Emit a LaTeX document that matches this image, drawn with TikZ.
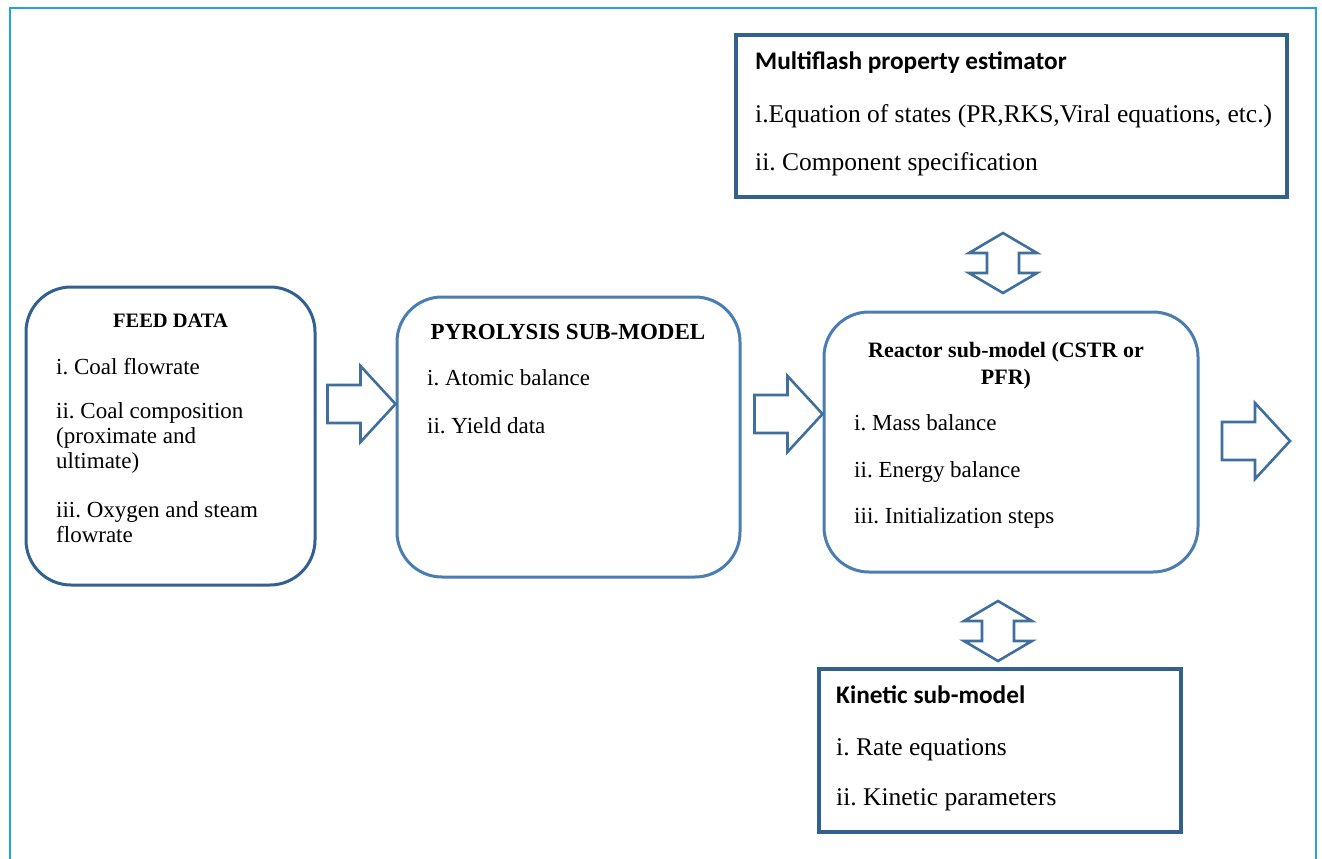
\documentclass[tikz,border=0pt]{standalone}
\usepackage{fontspec}
\setmainfont{Liberation Serif}
\newfontfamily\calibri{Carlito}
\usetikzlibrary{calc}

\definecolor{framecol}{HTML}{1EA5DF}
\definecolor{darkline}{HTML}{32608F}
\definecolor{midline}{HTML}{4A7DB0}
\definecolor{arrowcol}{HTML}{3F6F9E}

\newcommand{\itemsize}{\fontsize{23}{25}\selectfont}
\newcommand{\bigitemsize}{\fontsize{25.5}{28}\selectfont}
\newcommand{\titlesize}{\fontsize{22}{27}\selectfont\bfseries}

\tikzset{
	roundbox/.style={draw=midline, line width=3, rounded corners=45, fill=white},
	plainbox/.style={draw=darkline, line width=3.2, fill=white},
	entry/.style={anchor=base west, inner sep=0, font=\itemsize},
	bigentry/.style={entry, font=\bigitemsize},
	heading/.style={anchor=base, inner sep=0, font=\titlesize},
	sansheading/.style={anchor=base west, inner sep=0, font=\calibri\fontsize{25.3}{29}\selectfont\bfseries},
	arrowline/.style={draw=arrowcol, line width=2.6, fill=white, line join=miter},
	pics/fatarrow/.style={code={
		\draw[arrowline] (0,0) -- (-35,-38) -- (-35,-19) -- (-68,-19) -- (-68,19) -- (-35,19) -- (-35,38) -- cycle;
	}},
	pics/updown/.style={code={
		\draw[arrowline] (0,-30) -- (34,-10) -- (16,-10) -- (16,10) -- (34,10) -- (0,30) -- (-34,10) -- (-16,10) -- (-16,-10) -- (-34,-10) -- cycle;
	}}
}

\begin{document}
\frenchspacing
\begin{tikzpicture}[x=1pt,y=-1pt]
	\useasboundingbox (0,0) rectangle (1322,859);
	%The outer frame, open at the bottom
	\draw[framecol, line width=2] (10,870) -- (10,8) -- (1316,8) -- (1316,870);

	%The boxes
	\node[roundbox, draw=darkline, minimum width=289, minimum height=298] (feed) at (170.5,436) {};
	\node[roundbox, minimum width=343, minimum height=280] (pyro) at (568.5,437) {};
	\node[roundbox, minimum width=374, minimum height=260] (reactor) at (1011,442) {};
	\node[plainbox, minimum width=551, minimum height=162] (multi) at (1011.5,116) {};
	\node[plainbox, minimum width=362, minimum height=163] (kinetic) at (1000,750.5) {};

	%Feed data
	\node[heading, font=\fontsize{20.5}{24}\selectfont\bfseries] (feedtitle) at (170.5,327) {FEED DATA};
	\node[entry] (feed1) at (56,374) {i. Coal flowrate};
	\node[entry] (feed2) at (56,418) {ii. Coal composition};
	\node[entry] (feed2b) at (56,443) {(proximate and};
	\node[entry] (feed2c) at (56,468) {ultimate)};
	\node[entry] (feed3) at (56,517) {iii. Oxygen and steam};
	\node[entry] (feed3b) at (56,542) {flowrate};

	%Pyrolysis sub-model
	\node[heading, font=\fontsize{23}{27}\selectfont\bfseries] (pyrotitle) at (568,339) {PYROLYSIS SUB-MODEL};
	\node[entry] (pyro1) at (427,385) {i. Atomic balance};
	\node[entry] (pyro2) at (427,433) {ii. Yield data};

	%Reactor sub-model
	\node[heading] (reacttitle) at (1006,357) {Reactor sub-model (CSTR or};
	\node[heading] (reacttitleb) at (1006,384) {PFR)};
	\node[entry] (react1) at (854,430) {i. Mass balance};
	\node[entry] (react2) at (854,477) {ii. Energy balance};
	\node[entry] (react3) at (854,523) {iii. Initialization steps};

	%Multiflash property estimator
	\node[sansheading] (multititle) at (755,70) {Multiflash property estimator};
	\node[bigentry] (multi1) at (755,122) {i.Equation of states (PR,RKS,Viral equations, etc.)};
	\node[bigentry] (multi2) at (755,170) {ii. Component specification};

	%Kinetic sub-model
	\node[sansheading] (kintitle) at (836,703) {Kinetic sub-model};
	\node[bigentry] (kin1) at (836,755) {i. Rate equations};
	\node[bigentry] (kin2) at (836,805) {ii. Kinetic parameters};

	%The block arrows
	\coordinate (outlet) at (1290,441);
	\coordinate (upper) at (1003,263);
	\coordinate (lower) at (998,631);
	\pic at ([yshift=33]pyro.west) {fatarrow};
	\pic at ([yshift=28]reactor.west) {fatarrow};
	\pic at (outlet) {fatarrow};
	\pic at (upper) {updown};
	\pic at (lower) {updown};
\end{tikzpicture}
\end{document}
